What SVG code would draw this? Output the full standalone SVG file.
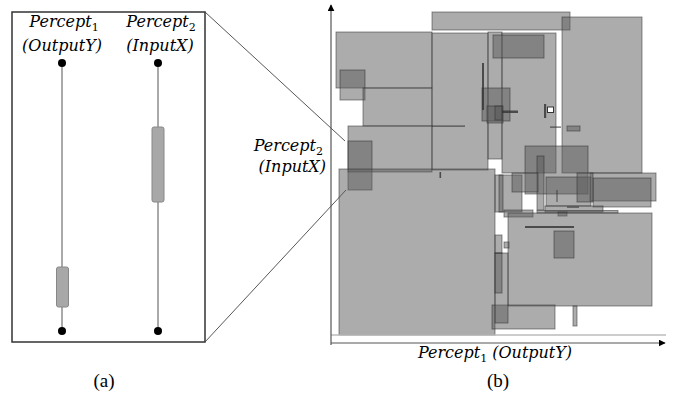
<svg xmlns="http://www.w3.org/2000/svg" width="686" height="399" viewBox="0 0 686 399">
<style>
.lbl{font-family:"DejaVu Serif","Liberation Serif",serif;font-style:italic;font-size:16px;fill:#000}
.sub{font-style:normal;font-size:11px}
.cap{font-family:"Liberation Serif",serif;font-size:19px;fill:#000}
.r{fill:#5a5a5a;fill-opacity:.5;stroke:#2a2a2a;stroke-opacity:.5;stroke-width:1}
.d{fill:#333;fill-opacity:.8;stroke:none}
.ln{stroke:#555;stroke-width:1;fill:none}
.ax{stroke:#555;stroke-width:1.2;fill:none}
</style>
<defs>
<marker id="arr" viewBox="0 0 10 10" refX="9" refY="5" markerWidth="7" markerHeight="7" orient="auto" markerUnits="userSpaceOnUse">
<path d="M0,0 L10,5 L0,10 z" fill="#000"/>
</marker>
</defs>
<rect width="686" height="399" fill="#fff"/>

<g id="panel-a">
<rect x="12" y="12" width="193" height="330" fill="none" stroke="#333" stroke-width="1.5"/>
<text class="lbl" x="64" y="27" text-anchor="middle">Percept<tspan class="sub" dy="4">1</tspan></text>
<text class="lbl" x="62" y="51" text-anchor="middle">(OutputY)</text>
<text class="lbl" x="161" y="27" text-anchor="middle">Percept<tspan class="sub" dy="4">2</tspan></text>
<text class="lbl" x="160" y="51" text-anchor="middle">(InputX)</text>
<line class="ln" x1="62" y1="63" x2="62" y2="331"/>
<line class="ln" x1="158" y1="63" x2="158" y2="331"/>
<circle cx="62" cy="63" r="4" fill="#000"/>
<circle cx="158" cy="63" r="4" fill="#000"/>
<circle cx="62" cy="331" r="4" fill="#000"/>
<circle cx="158" cy="331" r="4" fill="#000"/>
<rect x="56.5" y="267" width="12" height="40" rx="2" fill="#a8a8a8" stroke="#888"/>
<rect x="152" y="127" width="12" height="75" rx="2" fill="#a8a8a8" stroke="#888"/>
<text class="cap" x="104" y="387" text-anchor="middle">(a)</text>
</g>

<g id="connectors">
<line x1="205" y1="12" x2="345" y2="141" stroke="#444" stroke-width="0.9"/>
<line x1="205" y1="342" x2="346" y2="190" stroke="#444" stroke-width="0.9"/>
</g>

<g id="panel-b">
<g id="rects">
<rect class="r" x="432" y="12" width="138" height="18"/>
<rect class="r" x="562" y="17" width="80" height="156"/>
<rect class="r" x="336" y="32" width="96" height="56"/>
<rect class="r" x="340" y="70" width="25" height="30"/>
<rect class="r" x="363" y="88" width="69" height="38"/>
<rect class="r" x="348" y="126" width="84" height="46"/>
<rect class="r" x="348" y="141" width="24" height="49"/>
<rect class="r" x="432" y="33" width="56" height="137"/>
<rect class="r" x="488" y="32" width="14" height="127"/>
<rect class="r" x="502" y="33" width="54" height="140"/>
<rect class="r" x="493" y="35" width="51" height="23"/>
<rect class="r" x="339" y="169" width="156" height="166"/>
<rect class="r" x="482" y="88" width="28" height="33"/>
<rect class="r" x="487" y="106" width="16" height="17"/>
<rect class="r" x="495" y="106" width="7" height="14"/>
<rect class="d" x="502" y="110.5" width="16" height="2.5"/>
<rect class="d" x="482" y="63" width="2" height="47"/>
<rect class="d" x="432" y="125.5" width="33" height="1.2"/>
<rect class="d" x="544" y="104" width="2.2" height="14"/>
<rect x="547.5" y="107" width="6" height="5.5" fill="#fff" stroke="#333" stroke-width="1"/>
<rect class="d" x="550" y="126.5" width="11" height="1.2"/>
<rect class="r" x="567" y="126" width="13" height="5"/>
<rect class="r" x="525" y="146" width="63" height="48"/>
<rect class="r" x="537" y="156" width="7" height="54"/>
<rect class="r" x="546" y="177" width="45" height="29"/>
<rect class="r" x="590" y="173" width="66" height="28"/>
<rect class="r" x="593" y="178" width="58" height="29"/>
<rect class="r" x="577" y="173" width="16" height="29"/>
<rect class="r" x="495" y="175" width="27" height="37"/>
<rect class="r" x="499" y="175" width="4" height="37"/>
<rect class="r" x="512" y="173" width="26" height="19"/>
<rect class="r" x="545" y="206" width="58" height="6"/>
<rect class="r" x="504" y="210" width="29" height="7"/>
<rect class="r" x="537" y="210.5" width="81" height="2.5"/>
<rect class="r" x="558" y="212" width="9" height="4"/>
<rect class="d" x="567" y="206.5" width="12" height="1.2"/>
<rect class="d" x="556.5" y="190" width="1" height="12"/>
<rect class="r" x="508" y="213" width="144" height="93"/>
<rect class="d" x="525" y="226" width="49" height="2"/>
<rect class="r" x="554" y="231" width="20" height="27"/>
<rect class="r" x="492" y="305" width="63" height="24"/>
<rect class="r" x="495" y="253" width="13" height="70"/>
<rect class="r" x="495" y="253" width="7" height="40"/>
<rect class="r" x="495" y="235" width="7" height="18"/>
<rect class="r" x="504" y="242" width="5" height="6"/>
<rect class="r" x="573" y="306" width="4" height="20"/>
<rect class="d" x="439.5" y="172" width="1.6" height="6"/>
</g>
<line x1="331" y1="335" x2="666" y2="335" stroke="#bbb" stroke-width="1.5"/>
<line class="ax" x1="331" y1="345" x2="331" y2="5" marker-end="url(#arr)"/>
<line class="ax" x1="331" y1="343" x2="665" y2="343" marker-end="url(#arr)"/>
<text class="lbl" x="323" y="151" text-anchor="end">Percept<tspan class="sub" dy="4">2</tspan></text>
<text class="lbl" x="326" y="172" text-anchor="end">(InputX)</text>
<text class="lbl" x="495" y="358" text-anchor="middle">Percept<tspan class="sub" dy="4">1</tspan><tspan dy="-4"> (OutputY)</tspan></text>
<text class="cap" x="498" y="387" text-anchor="middle">(b)</text>
</g>
</svg>
